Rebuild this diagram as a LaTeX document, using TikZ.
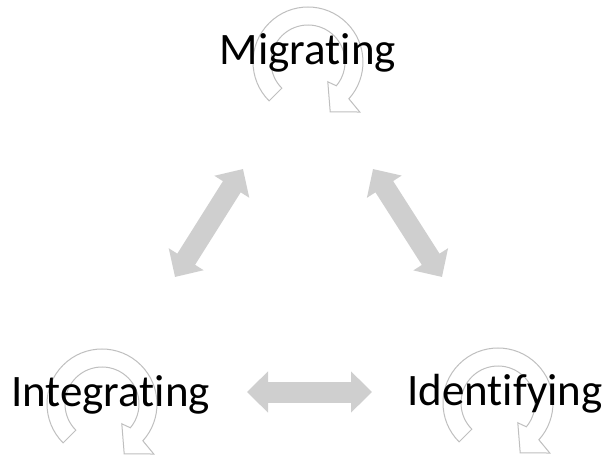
\documentclass[tikz,border=0pt]{standalone}
\usepackage{fontspec}
\setmainfont[Ligatures=NoCommon]{Carlito}
\usetikzlibrary{arrows.meta}
\tikzset{
  cycline/.style={draw=black!25, fill=white, line width=1pt, line join=miter},
  cyc/.pic={
    \path[cycline] (225:55pt) arc[start angle=225, end angle=-42, radius=55pt]
      -- (-44:72pt) -- (-66:54.6pt) -- (-45:28pt) -- (-40:37pt)
      arc[start angle=-40, end angle=225, radius=37pt] -- cycle;
  },
  label/.style={font=\fontsize{45}{50}\selectfont, text=black, inner sep=0pt, anchor=base},
  dbl/.style={draw=black!19, line width=21pt,
    {Triangle[length=21pt,width=40pt]}-{Triangle[length=21pt,width=40pt]}},
}
\begin{document}
\begin{tikzpicture}[x=1pt,y=1pt]
\useasboundingbox (0,0) rectangle (606,456);
% cycle arrows
\coordinate (cm) at (308,394);
\coordinate (ci) at (102,52);
\coordinate (cd) at (498,53);
\pic at (cm) {cyc};
\pic at (ci) {cyc};
\pic at (cd) {cyc};
% labels
\node[label] (mig) at (308,391) {Migrating};
\node[label] (integ) at (110.5,49) {Integrating};
\node[label] (ident) at (505,51) {Identifying};
% connectors
\coordinate (l1) at (175,179);
\coordinate (l2) at (243,287);
\coordinate (r1) at (373,287);
\coordinate (r2) at (442,179);
\coordinate (h1) at (247,64);
\coordinate (h2) at (372,64);
\draw[dbl] (l1) -- (l2);
\draw[dbl] (r1) -- (r2);
\draw[dbl] (h1) -- (h2);
\end{tikzpicture}
\end{document}
